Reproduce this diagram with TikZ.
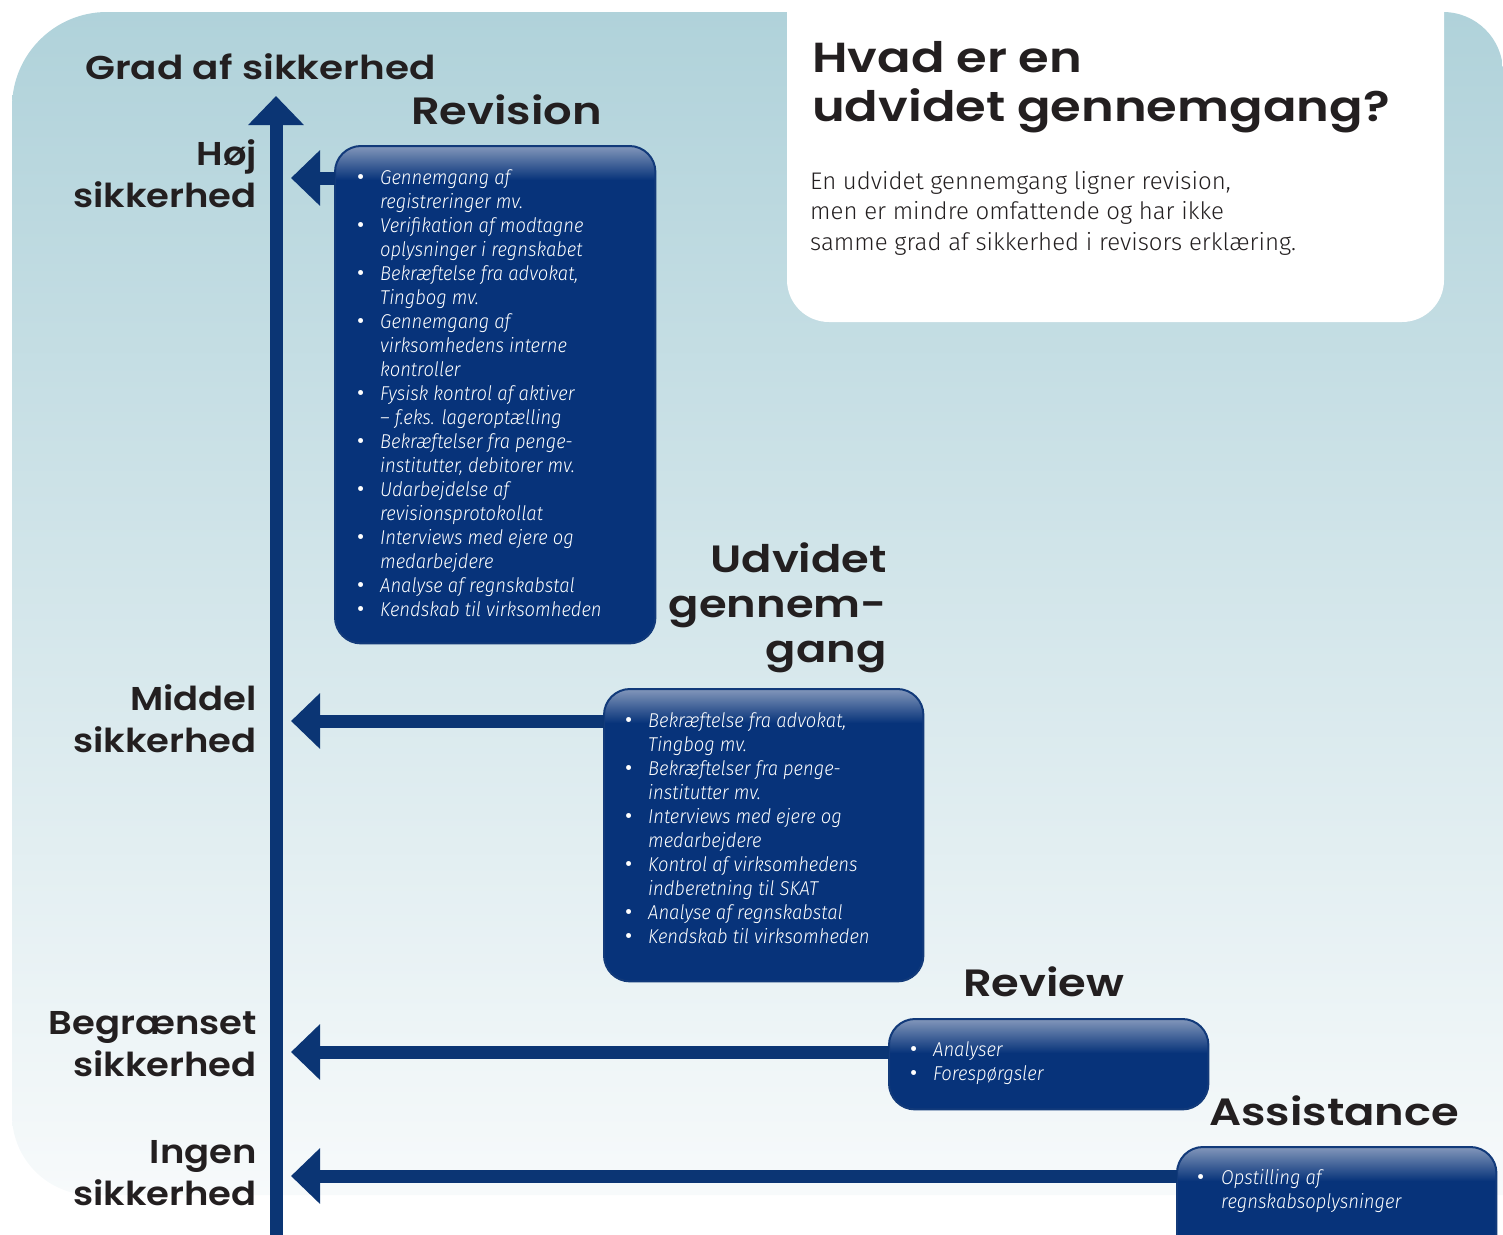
\documentclass[tikz,border=0pt]{standalone}
\usepackage{fontspec}
\usetikzlibrary{arrows.meta,positioning,calc}

\newfontfamily\headfont{Poppins}[BoldFont={* SemiBold}, FakeStretch=1.18]
\newfontfamily\levelfont{Poppins}[BoldFont={* SemiBold}, FakeStretch=1.12]
\newfontfamily\bulfont{Fira Sans}
\IfFontExistsTF{Fira Sans Light}
  {\newfontfamily\bodyfont{Fira Sans Light}
   \newfontfamily\listfont{Fira Sans Light}[FakeStretch=0.92]}
  {\newfontfamily\bodyfont{Fira Sans}
   \newfontfamily\listfont{Fira Sans}[FakeStretch=0.92]}

\definecolor{bgtop}{HTML}{B0D2DA}
\definecolor{bgbot}{HTML}{F7FAFB}
\definecolor{navy}{HTML}{0B3574}
\definecolor{boxblue}{HTML}{07337A}
\definecolor{boxtop}{HTML}{8A9DBE}
\definecolor{boxedge}{HTML}{123A7A}
\definecolor{ink}{HTML}{231F20}

\newcommand{\bul}{{\bulfont\upshape\fontsize{22}{24}\selectfont\textbullet}}
% light band along the top of a box
\newcommand{\boxshine}[1]{%
  \begin{scope}
    \clip[rounded corners=26pt] (#1.north west) rectangle (#1.south east);
    \shade[top color=boxtop, bottom color=boxblue]
      ([yshift=2pt]#1.north west) rectangle ([yshift=-34pt]#1.north east);
  \end{scope}
  \draw[boxedge, line width=2pt, rounded corners=26pt] (#1.north west) rectangle (#1.south east);}

\tikzset{
  arr/.style={draw=navy, line width=13pt, -{Triangle[length=29pt,width=54pt]}},
  infobox/.style={rounded corners=26pt, fill=boxblue, anchor=north west, inner sep=0pt},
  items/.style={text=white, font=\listfont\itshape\fontsize{20}{24}\selectfont,
    anchor=base west, inner sep=0pt},
  level/.style={text=ink, font=\levelfont\bfseries\fontsize{33}{41.5}\selectfont,
    align=right, anchor=base east, inner sep=0pt},
  heading/.style={text=ink, font=\headfont\bfseries\fontsize{38}{45}\selectfont,
    inner sep=0pt},
}

\begin{document}
\begin{tikzpicture}[x=1pt, y=-1pt]
  \useasboundingbox (0,0) rectangle (1503,1234);

  % background
  \shade[top color=bgtop, bottom color=bgbot]
    (1503,1195) [rounded corners=80pt] -- (12,1195) [rounded corners=95pt] -- (12,12)
    [rounded corners=60pt] -- (1503,12) [sharp corners] -- cycle;
  \fill[white, rounded corners=42pt] (787,-60) rectangle (1444,322);

  % question box
  \node[anchor=base west, text=ink, align=left, inner sep=0pt,
    font=\headfont\bfseries\fontsize{42}{49}\selectfont] (title) at (812,121)
    {Hvad er en\\udvidet gennemgang?};
  \node[anchor=base west, text=ink, align=left, inner sep=0pt,
    font=\bodyfont\fontsize{24}{30.5}\selectfont] (desc) at (810,250)
    {En udvidet gennemgang ligner revision,\\men er mindre omfattende og har ikke\\samme grad af sikkerhed i revisors erklæring.};

  % boxes
  \node[infobox, minimum width=320pt, minimum height=497pt] (revbox) at (335,146) {};
  \boxshine{revbox}
  \node[infobox, minimum width=319pt, minimum height=292pt] (udvbox) at (604,689) {};
  \boxshine{udvbox}
  \node[infobox, minimum width=319pt, minimum height=90pt] (revwbox) at (889,1019) {};
  \boxshine{revwbox}
  \node[infobox, minimum width=319pt, minimum height=130pt] (assbox) at (1177,1147) {};
  \boxshine{assbox}

  % axis and arrows
  \coordinate (axistop) at (276,96);
  \coordinate (axisbot) at (276,1260);
  \draw[arr] (axisbot) -- (axistop);

  \coordinate (hojtip) at (291,178);
  \coordinate (midtip) at (291,721);
  \coordinate (begtip) at (291,1052);
  \coordinate (ingtip) at (291,1176);
  \draw[arr] (revbox.west |- hojtip) -- (hojtip);
  \draw[arr] (udvbox.west |- midtip) -- (midtip);
  \draw[arr] (revwbox.west |- begtip) -- (begtip);
  \draw[arr] (assbox.west |- ingtip) -- (ingtip);

  % headings
  \node[heading, font=\headfont\bfseries\fontsize{33}{41.5}\selectfont, anchor=base west] (grad) at (85,79) {Grad af sikkerhed};
  \node[heading, anchor=base west] (revhead) at (411,124) {Revision};
  \node[heading, align=right, anchor=base east] (udvhead) at (887,662) {Udvidet\\gennem-\\gang};
  \node[heading, anchor=base west] (revwhead) at (963,996) {Review};
  \node[heading, anchor=base west] (asshead) at (1209,1125) {Assistance};

  % levels
  \node[level] (hoj) at (257,207) {Høj\\sikkerhed};
  \node[level] (middel) at (257,752) {Middel\\sikkerhed};
  \node[level] (begr) at (257,1076) {Begrænset\\sikkerhed};
  \node[level] (ingen) at (257,1205) {Ingen\\sikkerhed};

  % lists
  \node[items] (revlist) at (357,184) {\begin{tabular}[t]{@{}p{23pt}@{}l@{}}
    \bul & Gennemgang af\\
         & registreringer mv.\\
    \bul & Verifikation af modtagne\\
         & oplysninger i regnskabet\\
    \bul & Bekræftelse fra advokat,\\
         & Tingbog mv.\\
    \bul & Gennemgang af\\
         & virksomhedens interne\\
         & kontroller\\
    \bul & Fysisk kontrol af aktiver\\
         & – f.eks. lageroptælling\\
    \bul & Bekræftelser fra penge-\\
         & institutter, debitorer mv.\\
    \bul & Udarbejdelse af\\
         & revisionsprotokollat\\
    \bul & Interviews med ejere og\\
         & medarbejdere\\
    \bul & Analyse af regnskabstal\\
    \bul & Kendskab til virksomheden
  \end{tabular}};
  \node[items] (udvlist) at (625,727) {\begin{tabular}[t]{@{}p{23pt}@{}l@{}}
    \bul & Bekræftelse fra advokat,\\
         & Tingbog mv.\\
    \bul & Bekræftelser fra penge-\\
         & institutter mv.\\
    \bul & Interviews med ejere og\\
         & medarbejdere\\
    \bul & Kontrol af virksomhedens\\
         & indberetning til SKAT\\
    \bul & Analyse af regnskabstal\\
    \bul & Kendskab til virksomheden
  \end{tabular}};
  \node[items] (revwlist) at (910,1056) {\begin{tabular}[t]{@{}p{23pt}@{}l@{}}
    \bul & Analyser\\
    \bul & Forespørgsler
  \end{tabular}};
  \node[items] (asslist) at (1197,1184) {\begin{tabular}[t]{@{}p{24pt}@{}l@{}}
    \bul & Opstilling af\\
         & regnskabsoplysninger
  \end{tabular}};
\end{tikzpicture}
\end{document}
